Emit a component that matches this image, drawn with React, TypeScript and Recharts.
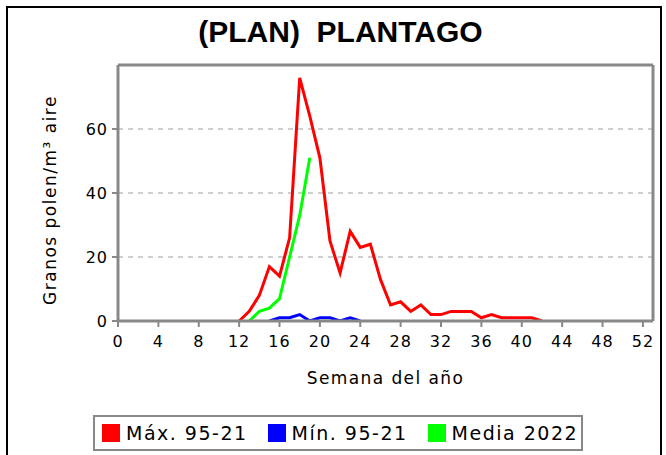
import React from 'react';
import { LineChart, Line, XAxis, YAxis, CartesianGrid, ReferenceLine } from 'recharts';

const weeks: number[] = Array.from({ length: 53 }, (_, i) => i);

// values by week 0..52 (null = no data)
const maxValues: (number | null)[] = [
  null, null, null, null, null, null, null, null, null, null, null, null,
  0, 3, 8, 17, 14, 26, 76, 64, 51, 25, 15, 28, 23, 24, 13, 5, 6, 3, 5, 2,
  2, 3, 3, 3, 1, 2, 1, 1, 1, 1, 0,
  null, null, null, null, null, null, null, null, null, null,
];
const minValues: (number | null)[] = [
  null, null, null, null, null, null, null, null, null, null, null, null,
  null, null, null, 0, 1, 1, 2, 0, 1, 1, 0, 1, 0,
  null, null, null, null, null, null, null, null, null, null, null, null, null, null,
  null, null, null, null, null, null, null, null, null, null, null, null, null, null, null,
];
const mediaValues: (number | null)[] = [
  null, null, null, null, null, null, null, null, null, null, null, null, null,
  0, 3, 4, 7, 20, 33, 51,
  null, null, null, null, null, null, null, null, null, null, null, null, null, null, null, null, null,
  null, null, null, null, null, null, null, null, null, null, null, null, null, null, null, null,
];

const xTicks: number[] = [0, 4, 8, 12, 16, 20, 24, 28, 32, 36, 40, 44, 48, 52];
const yTicks: number[] = [0, 20, 40, 60];

const series = [
  { key: 'max', name: 'Máx. 95-21', color: '#ff0000' },
  { key: 'min', name: 'Mín. 95-21', color: '#0000ff' },
  { key: 'media', name: 'Media 2022', color: '#00ff00' },
];

const data = weeks.map((w, i) => ({
  week: w,
  max: maxValues[i] ?? null,
  min: minValues[i] ?? null,
  media: mediaValues[i] ?? null,
}));

const AXIS = '#888888';
const FONT = '"DejaVu Sans", sans-serif';

export default function App() {
  return (
    <div style={{ position: 'absolute', left: 0, top: 0, width: 666, height: 455, overflow: 'hidden', background: '#fff' }}>
      <div style={{ position: 'absolute', left: 6, top: 6, width: 656, height: 470, border: '2px solid #000', boxSizing: 'border-box' }} />
      <div style={{ position: 'absolute', left: 0, top: 15, width: 681, textAlign: 'center', fontFamily: '"Liberation Sans", Arial, sans-serif', fontWeight: 'bold', fontSize: 30, whiteSpace: 'pre', color: '#000' }}>
        {'(PLAN)  PLANTAGO'}
      </div>
      <div style={{ position: 'absolute', left: 0, top: 0 }}>
        <LineChart width={666} height={455} data={data} margin={{ top: 65, right: 13, bottom: 104, left: 30 }}>
          <CartesianGrid vertical={false} stroke="#c0c0c0" strokeDasharray="5 5" strokeWidth={1.5} />
          <XAxis
            dataKey="week"
            type="number"
            domain={[0, 53]}
            ticks={xTicks}
            interval={0}
            allowDataOverflow
            height={30}
            axisLine={{ stroke: AXIS, strokeWidth: 3 }}
            tickLine={{ stroke: AXIS, strokeWidth: 2 }}
            tickSize={6}
            tickMargin={9}
            tick={{ fill: '#000', fontSize: 16, fontFamily: FONT, letterSpacing: 1 }}
            label={{ value: 'Semana del año', position: 'bottom', offset: 21, style: { fill: '#000', fontSize: 17, fontFamily: FONT, letterSpacing: 1.4 } }}
          />
          <YAxis
            type="number"
            domain={[0, 80]}
            ticks={yTicks}
            interval={0}
            allowDataOverflow
            width={88}
            axisLine={{ stroke: AXIS, strokeWidth: 3 }}
            tickLine={{ stroke: AXIS, strokeWidth: 2 }}
            tickSize={6}
            tickMargin={4}
            tick={{ fill: '#000', fontSize: 16, fontFamily: FONT, letterSpacing: 1 }}
            label={{ value: 'Granos polen/m³ aire', angle: -90, position: 'insideLeft', offset: 20, dy: 7, style: { textAnchor: 'middle', fill: '#000', fontSize: 17, fontFamily: FONT, letterSpacing: 1.5 } }}
          />
          <ReferenceLine y={80} stroke={AXIS} strokeWidth={3} ifOverflow="extendDomain" />
          <ReferenceLine x={53} stroke={AXIS} strokeWidth={3} ifOverflow="extendDomain" />
          {series.map((s) => (
            <Line
              key={s.key}
              type="linear"
              dataKey={s.key}
              name={s.name}
              stroke={s.color}
              strokeWidth={3}
              dot={false}
              activeDot={false}
              connectNulls={false}
              isAnimationActive={false}
            />
          ))}
        </LineChart>
      </div>
      <div style={{ position: 'absolute', left: 93, top: 415, width: 490, height: 36, border: '2px solid #888', boxSizing: 'border-box', display: 'flex', alignItems: 'center', paddingLeft: 7, fontFamily: FONT, fontSize: 19, letterSpacing: 1.5, color: '#000' }}>
        {series.map((s, i) => (
          <div key={s.key} style={{ display: 'flex', alignItems: 'center', marginLeft: i === 0 ? 0 : 20 }}>
            <div style={{ width: 18, height: 18, background: s.color, marginRight: 6 }} />
            <span style={{ whiteSpace: 'pre' }}>{s.name}</span>
          </div>
        ))}
      </div>
    </div>
  );
}
